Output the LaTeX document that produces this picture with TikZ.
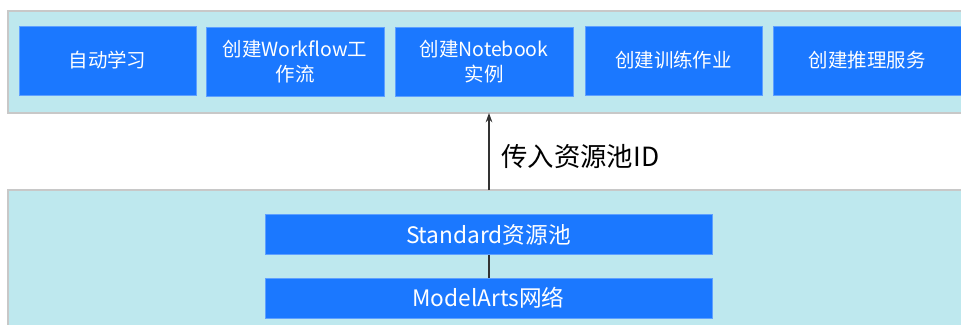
\documentclass[tikz,border=0pt]{standalone}
\usepackage{fontspec}
\setmainfont{Noto Sans CJK SC}
\usetikzlibrary{arrows.meta}
\definecolor{panelfill}{HTML}{BEE8EE}
\definecolor{panelline}{HTML}{C8C8C8}
\definecolor{boxblue}{HTML}{1B78FF}
\definecolor{lineg}{HTML}{333333}
\tikzset{
  panel/.style={fill=panelfill, draw=panelline, line width=0.9pt},
  bluebox/.style={fill=boxblue, draw=boxblue!70!white, line width=0.4pt, text=white, align=center, inner sep=0pt, font=\fontsize{14.6pt}{18.5pt}\selectfont},
  wide/.style={bluebox, font=\fontsize{17pt}{18pt}\selectfont},
  conn/.style={draw=lineg, line width=0.9pt},
}
\begin{document}
\begin{tikzpicture}[x=0.75pt,y=-0.75pt]
\useasboundingbox (0,0) rectangle (961,325);
\fill[white] (0,0) rectangle (961,325);
% panels
\path[panel] (8,11) rectangle (965,113);
\path[panel] (8,190) rectangle (965,330);
% top boxes
\node[bluebox, minimum width=177*0.75pt, minimum height=69*0.75pt] (b1) at (107.5,60.5) {自动学习};
\node[bluebox, minimum width=178*0.75pt, minimum height=69*0.75pt] (b2) at (295,61.5) {创建Workflow工\\作流};
\node[bluebox, minimum width=178*0.75pt, minimum height=69*0.75pt] (b3) at (484,61.5) {创建Notebook\\实例};
\node[bluebox, minimum width=177*0.75pt, minimum height=69*0.75pt] (b4) at (673.5,60.5) {创建训练作业};
\node[bluebox, minimum width=188*0.75pt, minimum height=69*0.75pt, anchor=west] (b5) at (773,60.5) {创建推理服务};
% bottom boxes
\node[wide, minimum width=447*0.75pt, minimum height=40*0.75pt] (std) at (488.5,234.5) {Standard资源池};
\node[wide, minimum width=447*0.75pt, minimum height=40*0.75pt] (net) at (488.5,298) {ModelArts网络};
% connectors
\coordinate (top) at (489,113);
\coordinate (bot) at (489,190);
\draw[conn, -{Stealth[length=7pt,width=5pt]}] (bot) -- (top);
\draw[conn] (std.south -| 489,0) -- (net.north -| 489,0);
\node[anchor=west, inner sep=0pt, font=\fontsize{19.8pt}{20pt}\selectfont, text=black] (lbl) at (501,157) {传入资源池ID};
\end{tikzpicture}
\end{document}
